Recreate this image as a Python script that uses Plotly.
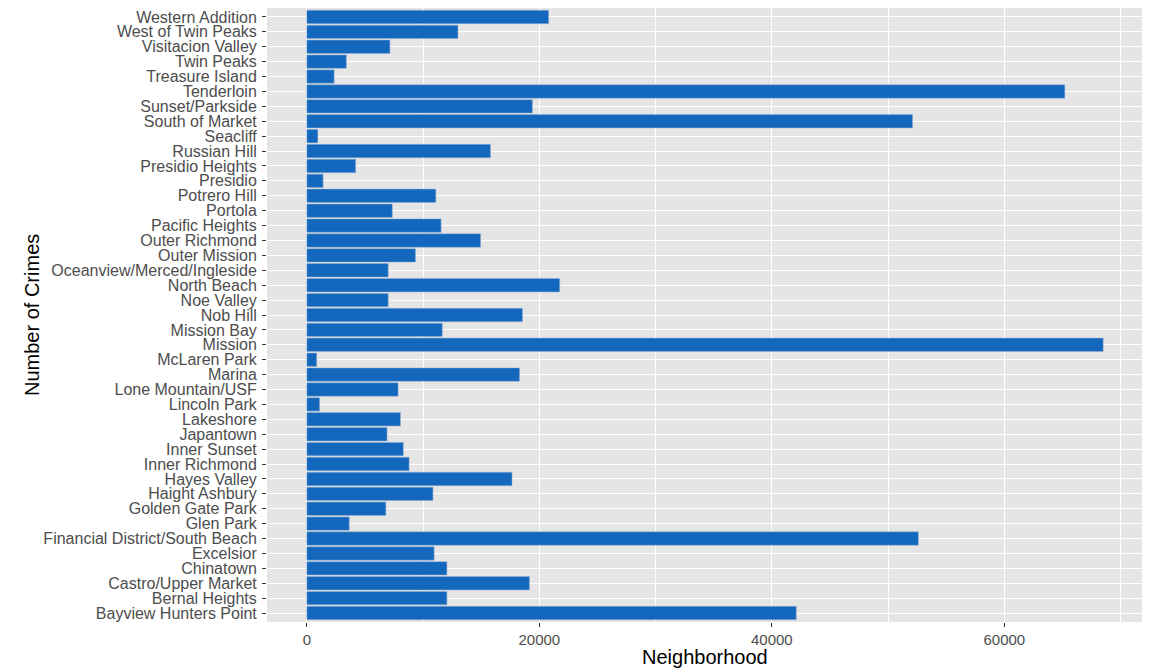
import plotly.graph_objects as go

neighborhoods = [
    "Bayview Hunters Point", "Bernal Heights", "Castro/Upper Market", "Chinatown",
    "Excelsior", "Financial District/South Beach", "Glen Park", "Golden Gate Park",
    "Haight Ashbury", "Hayes Valley", "Inner Richmond", "Inner Sunset", "Japantown",
    "Lakeshore", "Lincoln Park", "Lone Mountain/USF", "Marina", "McLaren Park",
    "Mission", "Mission Bay", "Nob Hill", "Noe Valley", "North Beach",
    "Oceanview/Merced/Ingleside", "Outer Mission", "Outer Richmond", "Pacific Heights",
    "Portola", "Potrero Hill", "Presidio", "Presidio Heights", "Russian Hill",
    "Seacliff", "South of Market", "Sunset/Parkside", "Tenderloin", "Treasure Island",
    "Twin Peaks", "Visitacion Valley", "West of Twin Peaks", "Western Addition",
]
crimes = [
    42100, 12050, 19150, 12050,
    10950, 52600, 3650, 6800,
    10850, 17650, 8800, 8300, 6900,
    8050, 1100, 7850, 18300, 850,
    68500, 11650, 18550, 7000, 21750,
    7000, 9350, 14950, 11550,
    7350, 11100, 1400, 4200, 15800,
    950, 52100, 19400, 65200, 2350,
    3400, 7150, 13000, 20800,
]
x_ticks = [0, 20000, 40000, 60000]

xmax = max(crimes)

fig = go.Figure(go.Bar(
    x=crimes,
    y=neighborhoods,
    orientation="h",
    width=0.9,
    marker=dict(color="#1368BE", line=dict(color="rgba(150,175,210,0.9)", width=0.6)),
    hoverinfo="x+y",
))

# page body has an 8px margin, so the figure is sized/offset to compensate
fig.update_layout(
    width=1142, height=661,
    margin=dict(l=259, r=7, t=0, b=47, autoexpand=False),
    paper_bgcolor="white",
    plot_bgcolor="#E5E5E5",
    font=dict(family="Liberation Sans, Arial, sans-serif", color="#4D4D4D", size=16),
    showlegend=False,
    bargap=0.1,
    annotations=[
        dict(text="Neighborhood", xref="paper", yref="paper", x=0.5, y=0,
             yshift=-35, xanchor="center", yanchor="middle", showarrow=False,
             font=dict(size=20, color="black")),
        dict(text="Number of Crimes", xref="paper", yref="paper", x=0, y=0.5,
             xshift=-235, xanchor="center", yanchor="middle", showarrow=False,
             textangle=-90, font=dict(size=20, color="black")),
    ],
)
fig.update_xaxes(
    range=[-0.05 * xmax, 1.05 * xmax],
    tickmode="array", tickvals=x_ticks, ticktext=[str(v) for v in x_ticks],
    showgrid=True, gridcolor="white", gridwidth=1.2,
    minor=dict(dtick=10000, tick0=0, showgrid=True, gridcolor="white", gridwidth=0.5),
    zeroline=False, showline=False, automargin=False,
    ticks="outside", ticklen=4, tickwidth=1, tickcolor="#333333",
    tickfont=dict(size=15, color="#4D4D4D"),
    fixedrange=True,
)
fig.update_yaxes(
    type="category",
    categoryorder="array", categoryarray=neighborhoods,
    tickmode="array", tickvals=neighborhoods, ticktext=neighborhoods,
    range=[-0.6, len(neighborhoods) - 0.4],
    showgrid=True, gridcolor="white", gridwidth=1.2,
    zeroline=False, showline=False, automargin=False,
    ticks="outside", ticklen=4, tickwidth=1, tickcolor="#333333",
    tickfont=dict(size=16, color="#4D4D4D"),
    ticklabelstandoff=2,
    fixedrange=True,
)

fig.write_html("out.html")
